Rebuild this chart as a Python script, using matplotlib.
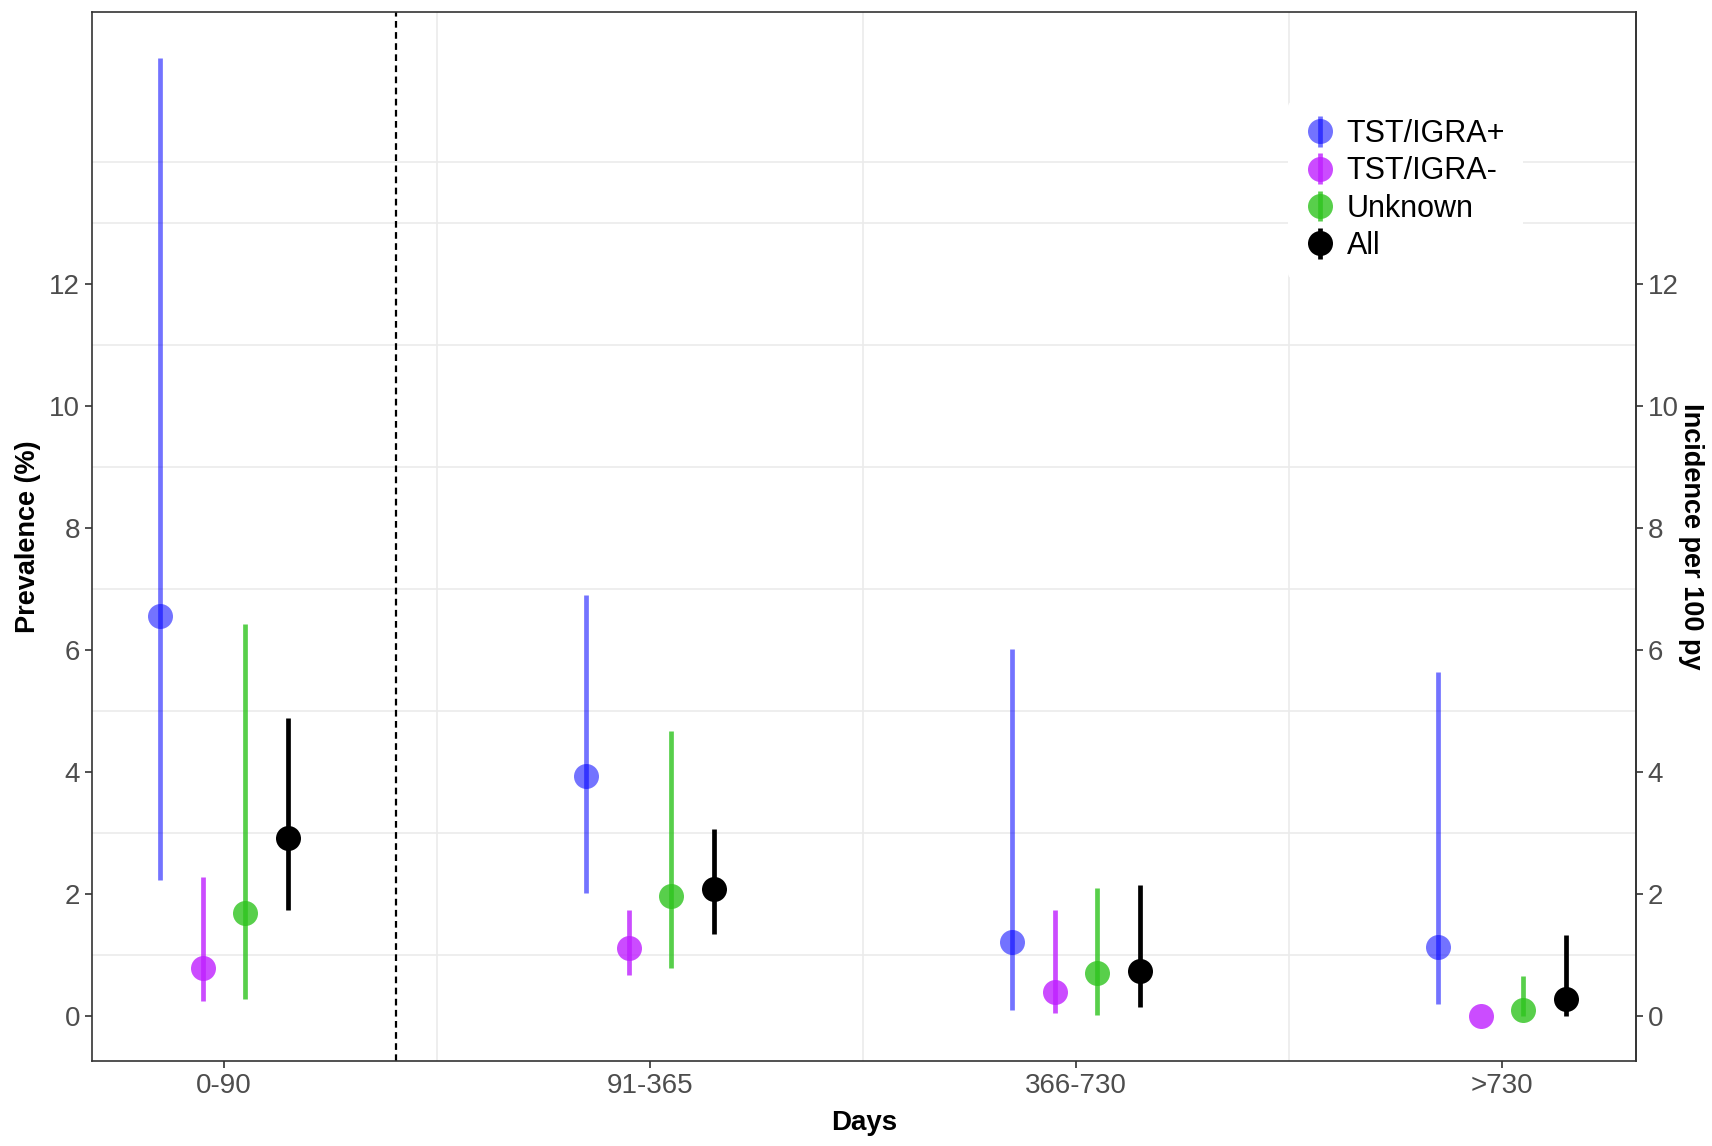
import numpy as np
import matplotlib
matplotlib.use('Agg')
import matplotlib.pyplot as plt

plt.rcParams['font.family'] = ['Liberation Sans', 'DejaVu Sans']

# data
days = ['0-90', '91-365', '366-730', '>730']
groups = ['TST/IGRA+', 'TST/IGRA-', 'Unknown', 'All']

est = {
    'TST/IGRA+': [6.56, 3.93, 1.21, 1.13],
    'TST/IGRA-': [0.78, 1.11, 0.39, 0.0],
    'Unknown':   [1.68, 1.96, 0.70, 0.10],
    'All':       [2.92, 2.07, 0.74, 0.27],
}
low = {
    'TST/IGRA+': [2.22, 2.02, 0.09, 0.20],
    'TST/IGRA-': [0.24, 0.67, 0.04, 0.0],
    'Unknown':   [0.28, 0.78, 0.01, 0.0],
    'All':       [1.73, 1.34, 0.15, 0.0],
}
high = {
    'TST/IGRA+': [15.70, 6.90, 6.01, 5.64],
    'TST/IGRA-': [2.28, 1.74, 1.73, 0.0],
    'Unknown':   [6.42, 4.67, 2.09, 0.65],
    'All':       [4.88, 3.06, 2.14, 1.33],
}

colors = {'TST/IGRA+': '#0000FF', 'TST/IGRA-': '#BF1FFF',
          'Unknown': '#2EC41E', 'All': '#000000'}
alphas = {'TST/IGRA+': 0.55, 'TST/IGRA-': 0.8, 'Unknown': 0.8, 'All': 1.0}
offsets = [-0.15, -0.05, 0.05, 0.15]

fig = plt.figure(figsize=(17.12, 11.46), dpi=100)
ax = fig.add_axes([0.0537, 0.074, 0.9019, 0.9155])

# background grid
for yv in [1, 3, 5, 7, 9, 11, 13, 14]:
    ax.axhline(yv, color='#EBEBEB', lw=1.2, zorder=0)
for xv in [0.5, 1.5, 2.5]:
    ax.axvline(xv, color='#EBEBEB', lw=1.2, zorder=0)
ax.axvline(0.404, color='black', lw=1.6, ls=(0, (3, 2)), zorder=1)

x = np.arange(len(days))
handles = []
for g, off in zip(groups, offsets):
    e = np.array(est[g])
    yerr = [e - np.array(low[g]), np.array(high[g]) - e]
    h = ax.errorbar(x + off, e, yerr=yerr, fmt='o', color=colors[g],
                    alpha=alphas[g], ms=18, elinewidth=3.4, capsize=0,
                    markeredgewidth=0, label=g, zorder=3)
    handles.append(h)

ax.set_xlim(-0.31, 3.315)
ax.set_ylim(-0.746, 16.46)
ax.set_xticks(x)
ax.set_xticklabels(days)
ax.set_yticks(range(0, 13, 2))

sec = ax.secondary_yaxis('right')
sec.set_yticks(range(0, 13, 2))

for a in [ax, sec]:
    a.tick_params(labelsize=20, colors='#333333', length=5, width=1.2,
                  labelcolor='#4D4D4D')
for sp in ax.spines.values():
    sp.set_color('#333333')
    sp.set_linewidth(1.2)
sec.spines['right'].set_color('#333333')
sec.spines['right'].set_linewidth(1.2)

ax.set_xlabel('Days', fontsize=20, fontweight='bold', labelpad=8)
ax.set_ylabel('Prevalence (%)', fontsize=19.5, fontweight='bold', labelpad=6)
sec.set_ylabel('Incidence per 100 py', fontsize=19.5, fontweight='bold',
               rotation=-90, labelpad=18)

leg = ax.legend(handles=handles, labels=groups, loc='upper left',
                bbox_to_anchor=(0.765, 0.93), frameon=True, fontsize=22,
                handlelength=0.9, handletextpad=0.4, labelspacing=0.24,
                borderpad=0.6)
leg.get_frame().set_edgecolor('none')
leg.get_frame().set_facecolor('white')
leg.get_frame().set_alpha(1.0)

fig.savefig('out.png', dpi=100)
